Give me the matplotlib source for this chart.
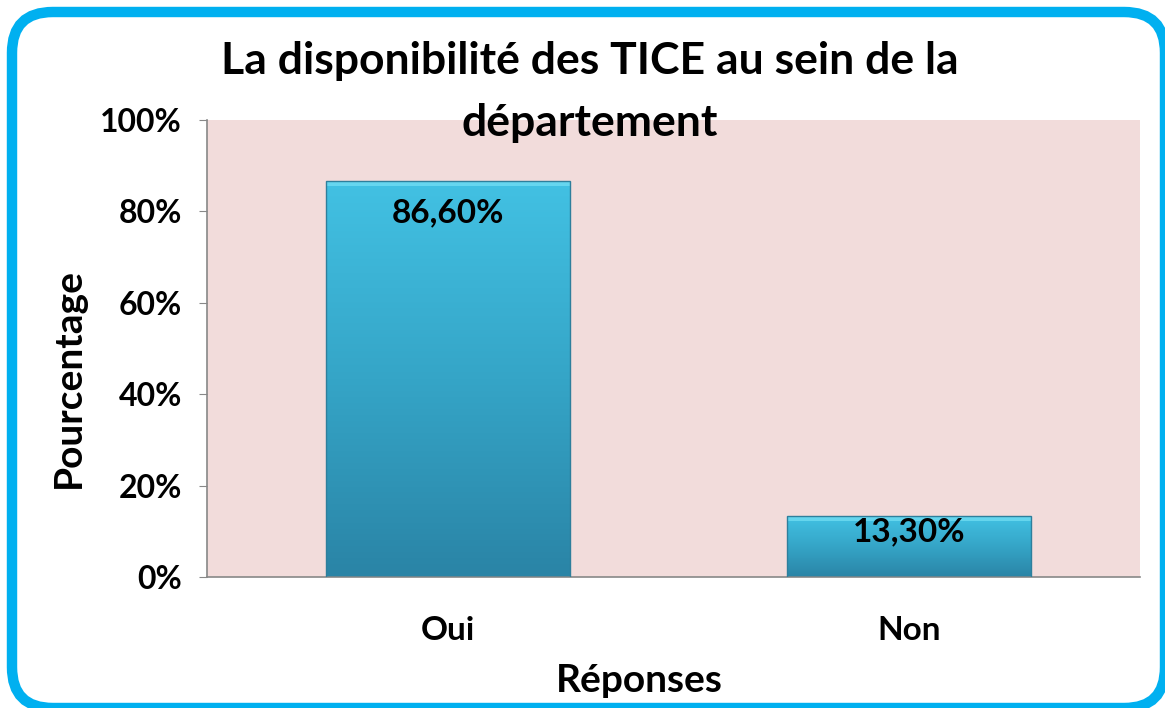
import matplotlib
matplotlib.use("Agg")
import matplotlib.pyplot as plt
import numpy as np
from matplotlib.patches import FancyBboxPatch, Rectangle
from matplotlib.colors import LinearSegmentedColormap

categories = ["Oui", "Non"]
values = [86.6, 13.3]
labels = ["86,60%", "13,30%"]
yticks = [0, 20, 40, 60, 80, 100]
ytick_labels = ["0%", "20%", "40%", "60%", "80%", "100%"]
title = "La disponibilité des TICE au sein de la\ndépartement"
xlabel = "Réponses"
ylabel = "Pourcentage"

plt.rcParams['font.family'] = ['Lato', 'DejaVu Sans']
plt.rcParams['font.weight'] = 'bold'

fig = plt.figure(figsize=(11.65, 7.08), dpi=100)
ax = fig.add_axes([207/1165, 1-577/708, (1140-207)/1165, (577-120)/708])
ax.set_facecolor("#F2DCDB")

x = np.arange(len(categories))
width = 0.529
bars = ax.bar(x, values, width=width, color="none", edgecolor="none", zorder=2)

cmap = LinearSegmentedColormap.from_list("b", ["#2A84A6", "#35A5C7", "#42C1E3"])
grad = np.linspace(0, 1, 256).reshape(-1, 1)
for b in bars:
    x0, w, h = b.get_x(), b.get_width(), b.get_height()
    ax.imshow(grad, cmap=cmap, origin="lower", aspect="auto",
              extent=[x0, x0 + w, 0, h], zorder=2)
    ax.add_patch(Rectangle((x0, h - 1.0), w, 1.0, color="#7FE6F8", alpha=0.6, zorder=3, lw=0))
    ax.add_patch(Rectangle((x0, 0), w, h, fill=False, edgecolor="#2E7F9C", lw=1.0, zorder=4))

offsets = [-17, -1]
for b, lab, off in zip(bars, labels, offsets):
    ax.annotate(lab, (b.get_x() + b.get_width()/2, b.get_height()),
                xytext=(0, off), textcoords="offset pixels",
                ha="center", va="top", fontsize=24, fontweight="bold", zorder=5)

ax.set_xlim(-0.523, 1.501)
ax.set_ylim(0, 100)
ax.set_yticks(yticks)
ax.set_yticklabels(ytick_labels, fontsize=23, fontweight="bold")
ax.set_xticks(x)
ax.set_xticklabels(categories, fontsize=24, fontweight="bold")
ax.tick_params(axis="x", length=0, pad=28)
ax.tick_params(axis="y", length=6, color="#888888", pad=12)
for s in ["top", "right"]:
    ax.spines[s].set_visible(False)
for s in ["left", "bottom"]:
    ax.spines[s].set_color("#888888")
    ax.spines[s].set_linewidth(1.2)

ax.set_xlabel(xlabel, fontsize=28, fontweight="bold", va="center")
ax.xaxis.set_label_coords(0.463, (577 - 680) / 457)
ax.set_ylabel(ylabel, fontsize=28, fontweight="bold", va="center")
ax.yaxis.set_label_coords((68 - 207) / 933, 0.435)

fig.text(590/1165, 1-92/708, title, ha="center", va="center", fontsize=32,
         fontweight="bold", linespacing=1.68)

border = FancyBboxPatch((12/1165, 0/708), (1165-12)/1165, (696-0)/708,
                        boxstyle="round,pad=0,rounding_size=0.035",
                        transform=fig.transFigure, fill=False,
                        edgecolor="#00B0F0", linewidth=7.5, zorder=10,
                        mutation_aspect=1165/708)
fig.patches.append(border)

fig.savefig("out.png", dpi=100)
